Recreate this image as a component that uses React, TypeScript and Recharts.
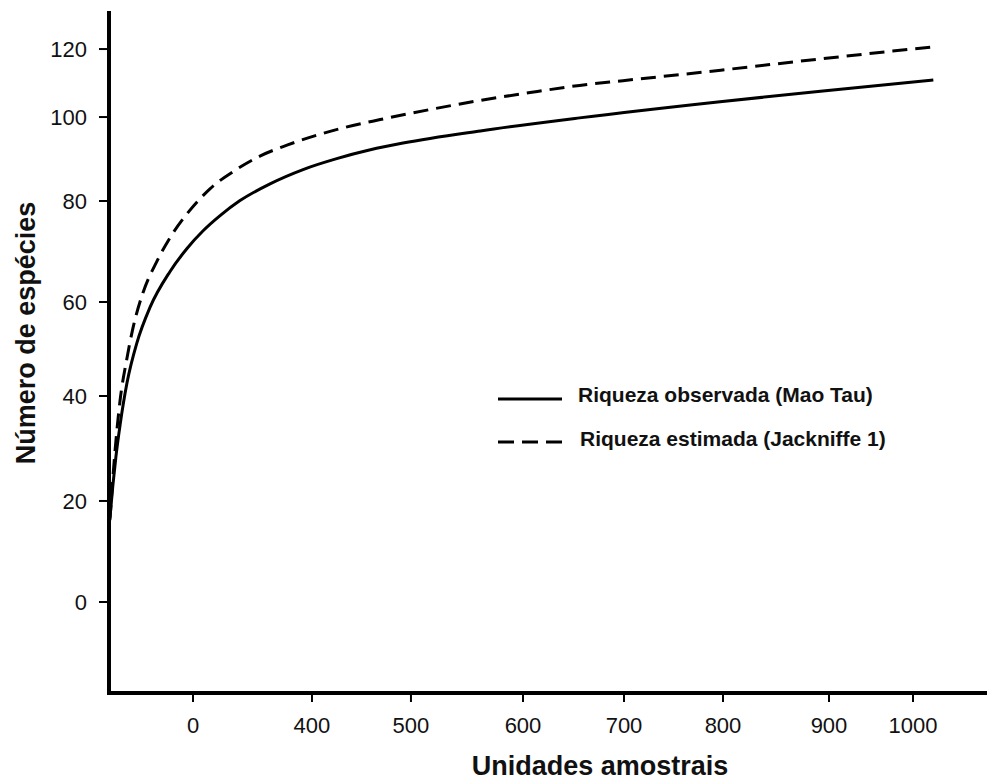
import React from "react";
import { LineChart, Line, XAxis, YAxis, Legend } from "recharts";

// ─── Data ────────────────────────────────────────────────────────────────────

const X_TICKS = [0, 400, 500, 600, 700, 800, 900, 1000];
const Y_TICKS = [0, 20, 40, 60, 80, 100, 120];

// Riqueza observada (Mao Tau)
const OBS_X = [-277, -267, -257, -243, -220, -187, -143, -77, -20, 34, 91, 158, 259, 370, 425, 459, 492, 562, 656, 797, 892, 1024];
const OBS_Y = [16.6, 23.0, 28.4, 34.5, 42.8, 51.3, 58.9, 66.0, 70.6, 74.1, 77.1, 80.1, 84.1, 87.5, 90.1, 92.2, 93.8, 96.7, 99.8, 104.5, 107.6, 110.9];

// Riqueza estimada (Jackniffe 1)
const EST_X = [-277, -263, -243, -220, -200, -167, -120, -77, -10, 57, 148, 225, 316, 401, 431, 469, 517, 562, 607, 656, 699, 780, 807, 892, 1021];
const EST_Y = [16.2, 27.4, 39.2, 48.1, 54.5, 61.8, 68.1, 72.7, 78.2, 82.9, 87.6, 90.7, 93.3, 95.4, 97.4, 99.4, 102.2, 104.9, 107.2, 109.3, 110.7, 113.2, 114.1, 117.1, 120.6];

const SERIES_NAMES = ["Riqueza observada (Mao Tau)", "Riqueza estimada (Jackniffe 1)"];

// ─── Axis knots: the printed ticks are not evenly spaced ─────────────────────
// value -> fraction of the axis length

const X_KNOTS = [-280, 0, 400, 500, 600, 700, 800, 900, 1000, 1085];
const X_FRACS = [0, 0.0959, 0.2317, 0.3447, 0.4726, 0.5879, 0.7009, 0.8219, 0.9178, 1];
const Y_KNOTS = [-18, 0, 20, 40, 60, 80, 100, 120, 131];
const Y_FRACS = [0, 0.1338, 0.2824, 0.4368, 0.575, 0.7235, 0.847, 0.947, 1];

function knotScale(knots: number[], fracs: number[], d0?: number[], r0?: number[]): any {
  let dom = d0 ? d0.slice() : [knots[0], knots[knots.length - 1]];
  let rng = r0 ? r0.slice() : [0, 1];
  const n = knots.length;
  const scale: any = (v: number) => {
    let i = 1;
    while (i < n - 1 && v > knots[i]) i++;
    const t = (v - knots[i - 1]) / (knots[i] - knots[i - 1]);
    const f = fracs[i - 1] + t * (fracs[i] - fracs[i - 1]);
    return rng[0] + f * (rng[1] - rng[0]);
  };
  scale.domain = (d?: number[]) => {
    if (d === undefined) return dom.slice();
    dom = d.slice();
    return scale;
  };
  scale.range = (r?: number[]) => {
    if (r === undefined) return rng.slice();
    rng = r.slice();
    return scale;
  };
  scale.invert = (px: number) => {
    const f = (px - rng[0]) / (rng[1] - rng[0]);
    let i = 1;
    while (i < n - 1 && f > fracs[i]) i++;
    const t = (f - fracs[i - 1]) / (fracs[i] - fracs[i - 1]);
    return knots[i - 1] + t * (knots[i] - knots[i - 1]);
  };
  scale.ticks = () => knots.slice(1, -1);
  scale.copy = () => knotScale(knots, fracs, dom, rng);
  return scale;
}

const xScale = knotScale(X_KNOTS, X_FRACS);
const yScale = knotScale(Y_KNOTS, Y_FRACS);

const obsData = OBS_X.map((x, i) => ({ x, y: OBS_Y[i] }));
const estData = EST_X.map((x, i) => ({ x, y: EST_Y[i] }));

const FONT = "'Liberation Sans', Arial, Helvetica, sans-serif";
const INK = "#111";

// ─── Legend ──────────────────────────────────────────────────────────────────

function RichnessLegend() {
  return (
    <svg width={420} height={90} style={{ overflow: "visible" }}>
      {SERIES_NAMES.map((name, i) => (
        <g key={name}>
          <line
            x1={8}
            x2={72}
            y1={29 + i * 43}
            y2={29 + i * 43}
            stroke="#000"
            strokeWidth={3}
            strokeDasharray={i === 1 ? "16 8" : undefined}
          />
          <text
            x={88 + i * 2}
            y={32 + i * 44}
            fontFamily={FONT}
            fontWeight="bold"
            fontSize={21}
            fill={INK}
          >
            {name}
          </text>
        </g>
      ))}
    </svg>
  );
}

// ─── Chart ───────────────────────────────────────────────────────────────────

export default function App() {
  return (
    <div style={{ position: "absolute", left: 0, top: 0, background: "#fff" }}>
      {/* recharts drops strokeDasharray on un-animated lines, force it */}
      <style>{`.est-line path { stroke-dasharray: 15 8; }`}</style>
      <LineChart width={987} height={780} margin={{ top: 13, right: 2, left: 0, bottom: 0 }}>
        <XAxis
          type="number"
          dataKey="x"
          scale={xScale}
          domain={[X_KNOTS[0], X_KNOTS[X_KNOTS.length - 1]]}
          allowDataOverflow
          ticks={X_TICKS}
          interval={0}
          height={87}
          axisLine={{ stroke: "#000", strokeWidth: 4, strokeLinecap: "square" }}
          tickLine={{ stroke: "#000", strokeWidth: 2 }}
          tickSize={9}
          tickMargin={15}
          tick={{ fill: INK, fontSize: 22, fontFamily: FONT }}
          label={{
            content: ({ viewBox }: any) => (
              <text
                x={viewBox.x + viewBox.width / 2 + 53}
                y={viewBox.y + 82}
                textAnchor="middle"
                fontFamily={FONT}
                fontWeight="bold"
                fontSize={27}
                fill={INK}
              >
                Unidades amostrais
              </text>
            ),
          }}
        />
        <YAxis
          type="number"
          dataKey="y"
          scale={yScale}
          domain={[Y_KNOTS[0], Y_KNOTS[Y_KNOTS.length - 1]]}
          allowDataOverflow
          ticks={Y_TICKS}
          interval={0}
          width={109}
          axisLine={{ stroke: "#000", strokeWidth: 4, strokeLinecap: "square" }}
          tickLine={{ stroke: "#000", strokeWidth: 2 }}
          tickSize={10}
          tickMargin={12}
          tick={{ fill: INK, fontSize: 22, fontFamily: FONT }}
          label={{
            content: ({ viewBox }: any) => {
              const cx = viewBox.x + 35;
              const cy = viewBox.y + viewBox.height / 2 - 20;
              return (
                <text
                  x={cx}
                  y={cy}
                  transform={`rotate(-90, ${cx}, ${cy})`}
                  textAnchor="middle"
                  fontFamily={FONT}
                  fontWeight="bold"
                  fontSize={27}
                  fill={INK}
                >
                  Número de espécies
                </text>
              );
            },
          }}
        />
        <Legend
          layout="horizontal"
          verticalAlign="middle"
          align="center"
          wrapperStyle={{ left: 490, top: 370, width: 420, height: 90 }}
          content={() => <RichnessLegend />}
        />
        <Line
          data={obsData}
          dataKey="y"
          name={SERIES_NAMES[0]}
          type="monotone"
          stroke="#000"
          strokeWidth={3}
          dot={false}
          isAnimationActive={false}
        />
        <Line
          data={estData}
          dataKey="y"
          name={SERIES_NAMES[1]}
          className="est-line"
          type="monotone"
          stroke="#000"
          strokeWidth={3}
          strokeDasharray="15 8"
          dot={false}
          isAnimationActive={false}
        />
      </LineChart>
    </div>
  );
}
